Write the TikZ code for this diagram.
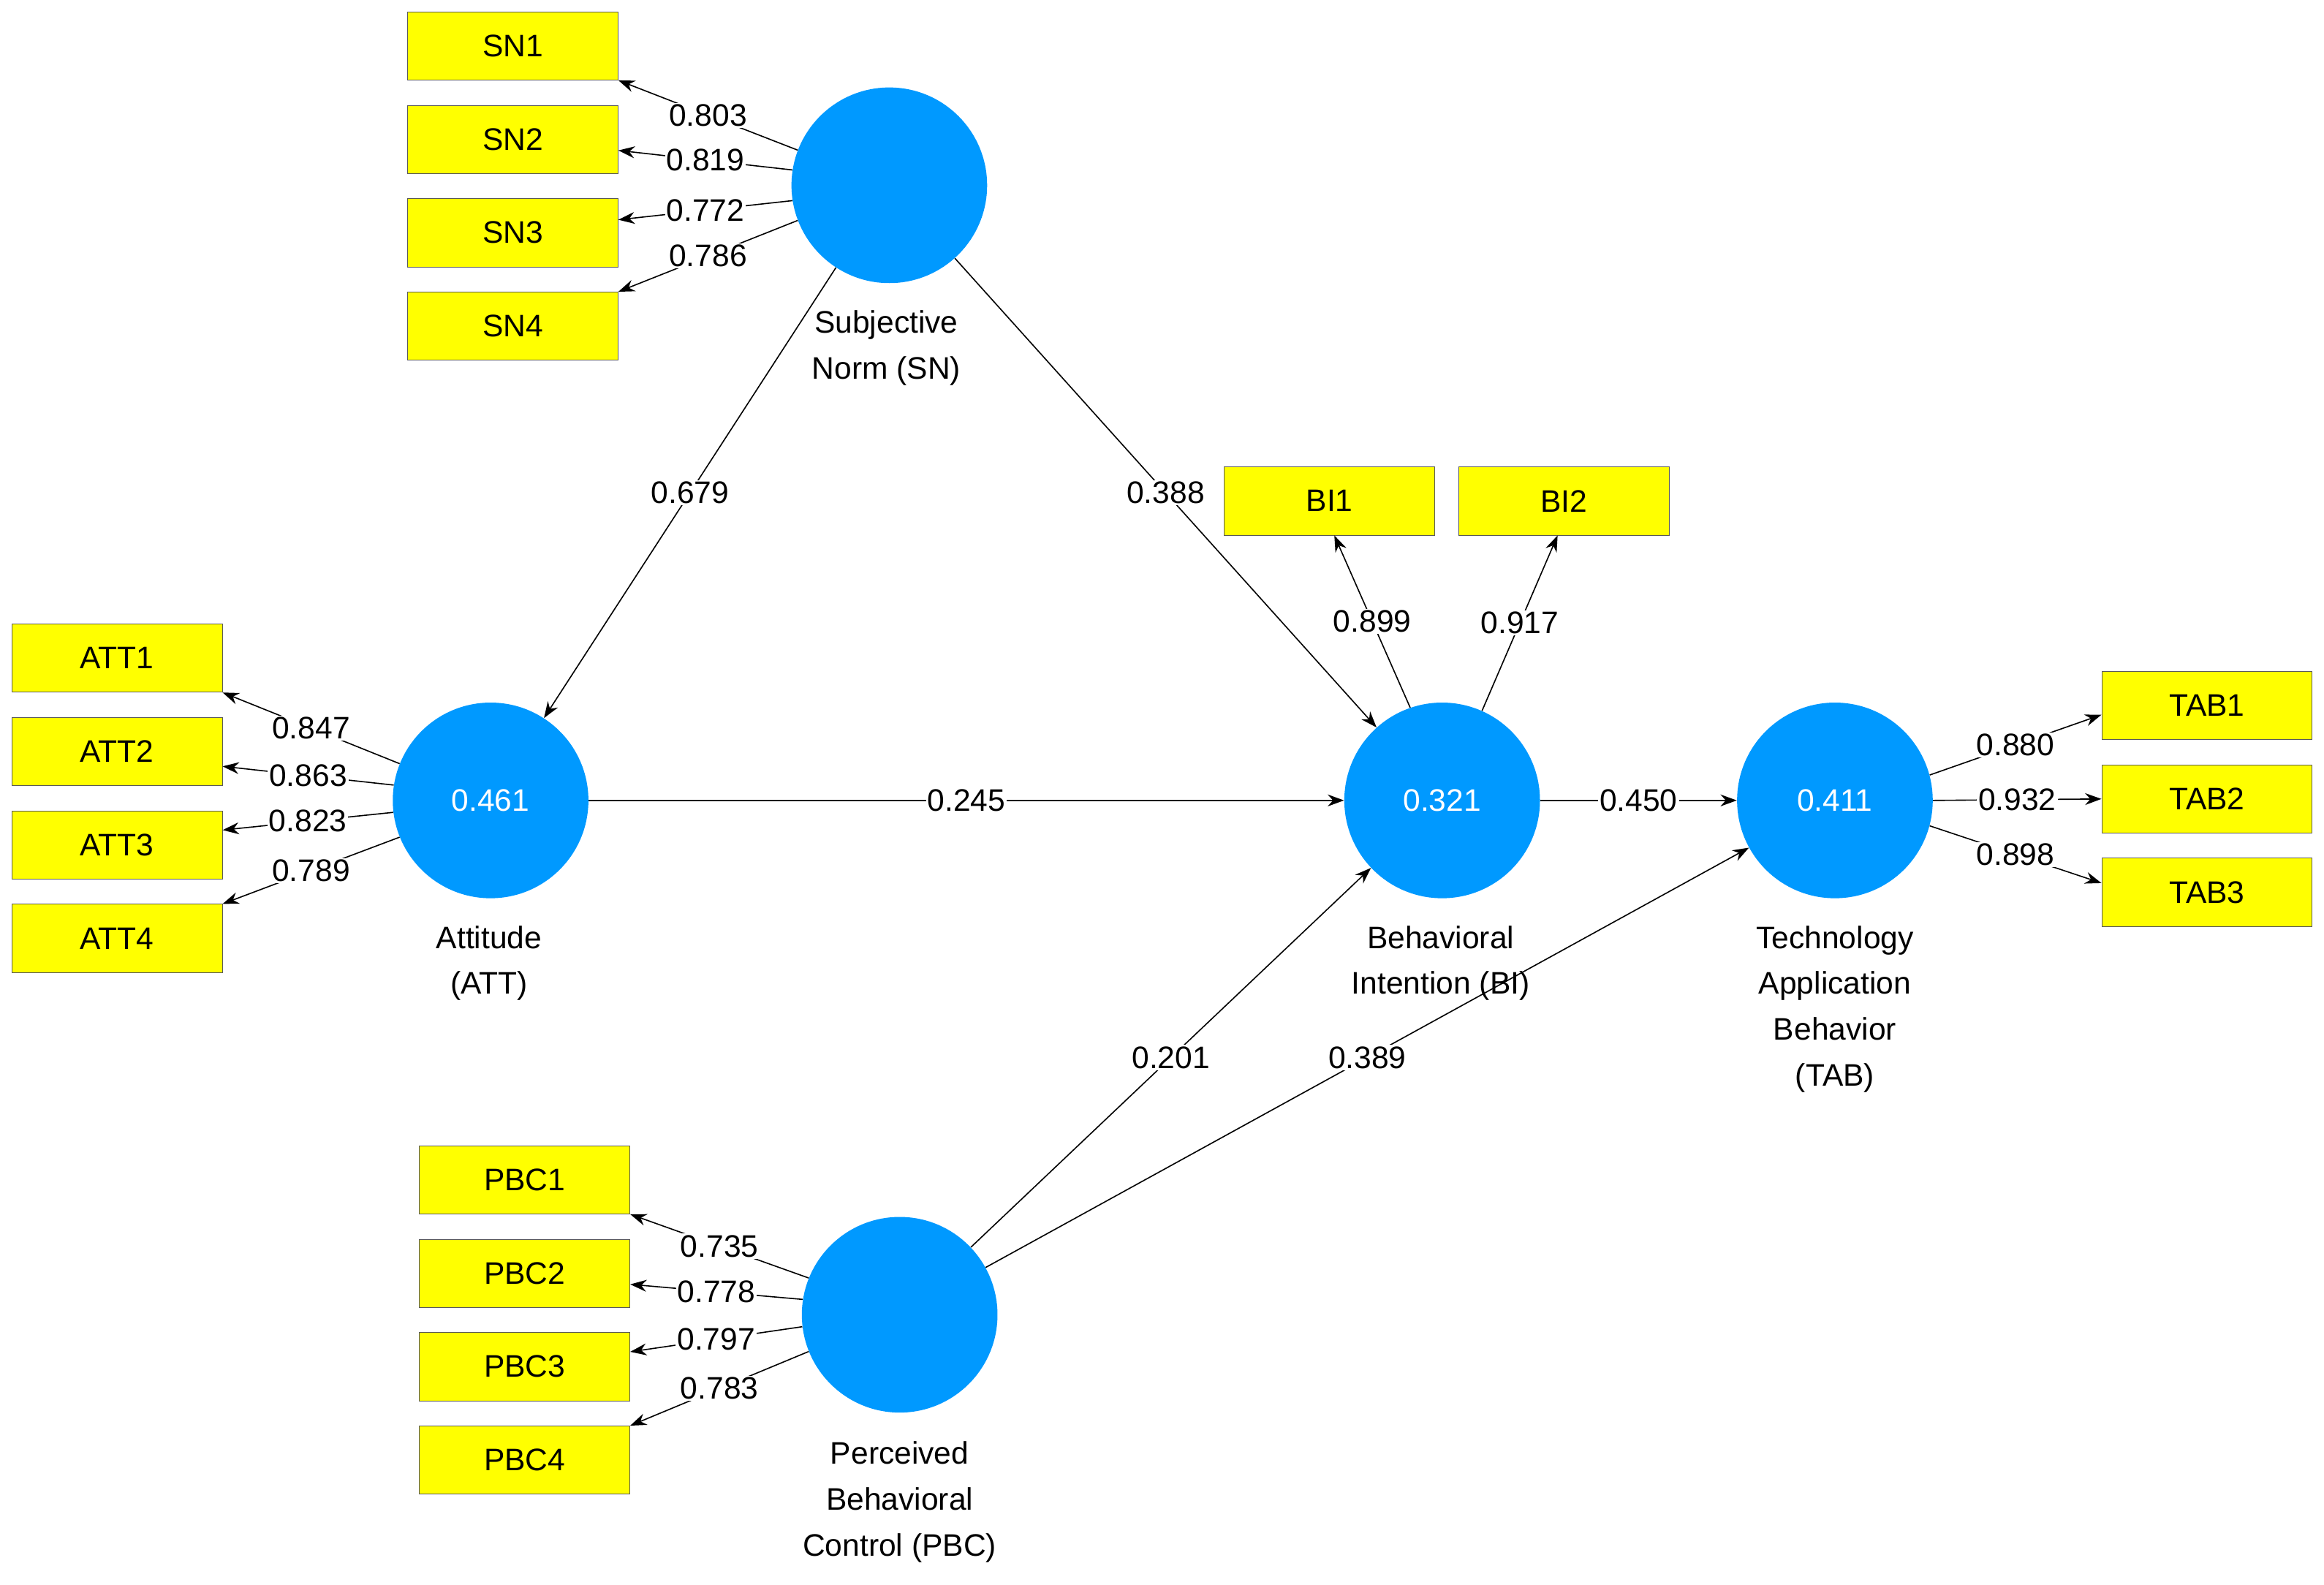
\documentclass[tikz,border=0pt]{standalone}
\usepackage{fontspec}
\setmainfont{Liberation Sans}
\usetikzlibrary{arrows.meta}
\definecolor{lvblue}{RGB}{0,153,255}
\definecolor{mvyellow}{RGB}{255,255,0}
\begin{document}
\begin{tikzpicture}[x=1pt, y=-1pt,
    every node/.style={font=\fontsize{21}{31}\selectfont},
    lv/.style={circle, fill=lvblue, minimum size=132pt, inner sep=0pt, text=white},
    mv/.style={rectangle, draw=gray!70!black, fill=mvyellow, minimum width=142pt, minimum height=46pt, inner sep=0pt},
    lvname/.style={align=center, anchor=north},
    rel/.style={-{Stealth[length=11pt, width=8pt]}, line width=0.8pt},
    val/.style={fill=white, inner sep=1pt}]
                    \useasboundingbox (0,0) rectangle (1568,1069);

                    \node[lv] (sn) at (600,125) {};
                    \node[lv] (att) at (331,540) {0.461};
                    \node[lv] (bi) at (973,540) {0.321};
                    \node[lv] (tab) at (1238,540) {0.411};
                    \node[lv] (pbc) at (607,887) {};

                    \node[lvname] at (598,206) {Subjective\\Norm (SN)};
                    \node[lvname] at (330,621) {Attitude\\(ATT)};
                    \node[lvname] at (972,621) {Behavioral\\Intention (BI)};
                    \node[lvname] at (1238,621) {Technology\\Application\\Behavior\\(TAB)};
                    \node[lvname] at (607,969) {Perceived\\Behavioral\\Control (PBC)};

                    \node[mv] (sn1) at (346,31) {SN1};
                    \node[mv] (sn2) at (346,94) {SN2};
                    \node[mv] (sn3) at (346,157) {SN3};
                    \node[mv] (sn4) at (346,220) {SN4};

                    \node[mv] (att1) at (79,444) {ATT1};
                    \node[mv] (att2) at (79,507) {ATT2};
                    \node[mv] (att3) at (79,570) {ATT3};
                    \node[mv] (att4) at (79,633) {ATT4};

                    \node[mv] (pbc1) at (354,796) {PBC1};
                    \node[mv] (pbc2) at (354,859) {PBC2};
                    \node[mv] (pbc3) at (354,922) {PBC3};
                    \node[mv] (pbc4) at (354,985) {PBC4};

                    \node[mv] (bi1) at (897,338) {BI1};
                    \node[mv] (bi2) at (1055,338) {BI2};

                    \node[mv] (tab1) at (1489,476) {TAB1};
                    \node[mv] (tab2) at (1489,539) {TAB2};
                    \node[mv] (tab3) at (1489,602) {TAB3};

                    \draw[rel] (sn.159) -- node[val] {0.803} (sn1.south east);
                    \draw[rel] (sn.171) -- node[val] {0.819} (sn2.-6);
                    \draw[rel] (sn.189) -- node[val] {0.772} (sn3.7);
                    \draw[rel] (sn.201) -- node[val] {0.786} (sn4.north east);

                    \draw[rel] (att.158) -- node[val] {0.847} (att1.south east);
                    \draw[rel] (att.171) -- node[val] {0.863} (att2.-8);
                    \draw[rel] (att.187) -- node[val] {0.823} (att3.8);
                    \draw[rel] (att.202) -- node[val] {0.789} (att4.north east);

                    \draw[rel] (pbc.158) -- node[val] {0.735} (pbc1.south east);
                    \draw[rel] (pbc.171) -- node[val] {0.778} (pbc2.-6);
                    \draw[rel] (pbc.187) -- node[val] {0.797} (pbc3.8);
                    \draw[rel] (pbc.202) -- node[val] {0.783} (pbc4.north east);

                    \draw[rel] (bi.109) -- node[val] {0.899} (bi1.-82);
                    \draw[rel] (bi.66) -- node[val] {0.917} (bi2.-100);

                    \draw[rel] (tab.15) -- node[val] {0.880} (tab1.-175);
                    \draw[rel] (tab.0) -- node[val] {0.932} (tab2.west);
                    \draw[rel] (tab.-15) -- node[val] {0.898} (tab3.175);

                    \draw[rel] (sn) -- node[val] {0.679} (att);
                    \draw[rel] (sn) -- node[val] {0.388} (bi);
                    \draw[rel] (att) -- node[val] {0.245} (bi);
                    \draw[rel] (bi) -- node[val] {0.450} (tab);
                    \draw[rel] (pbc) -- node[val] {0.201} (bi);
                    \draw[rel] (pbc) -- node[val] {0.389} (tab);
                \end{tikzpicture}
\end{document}
